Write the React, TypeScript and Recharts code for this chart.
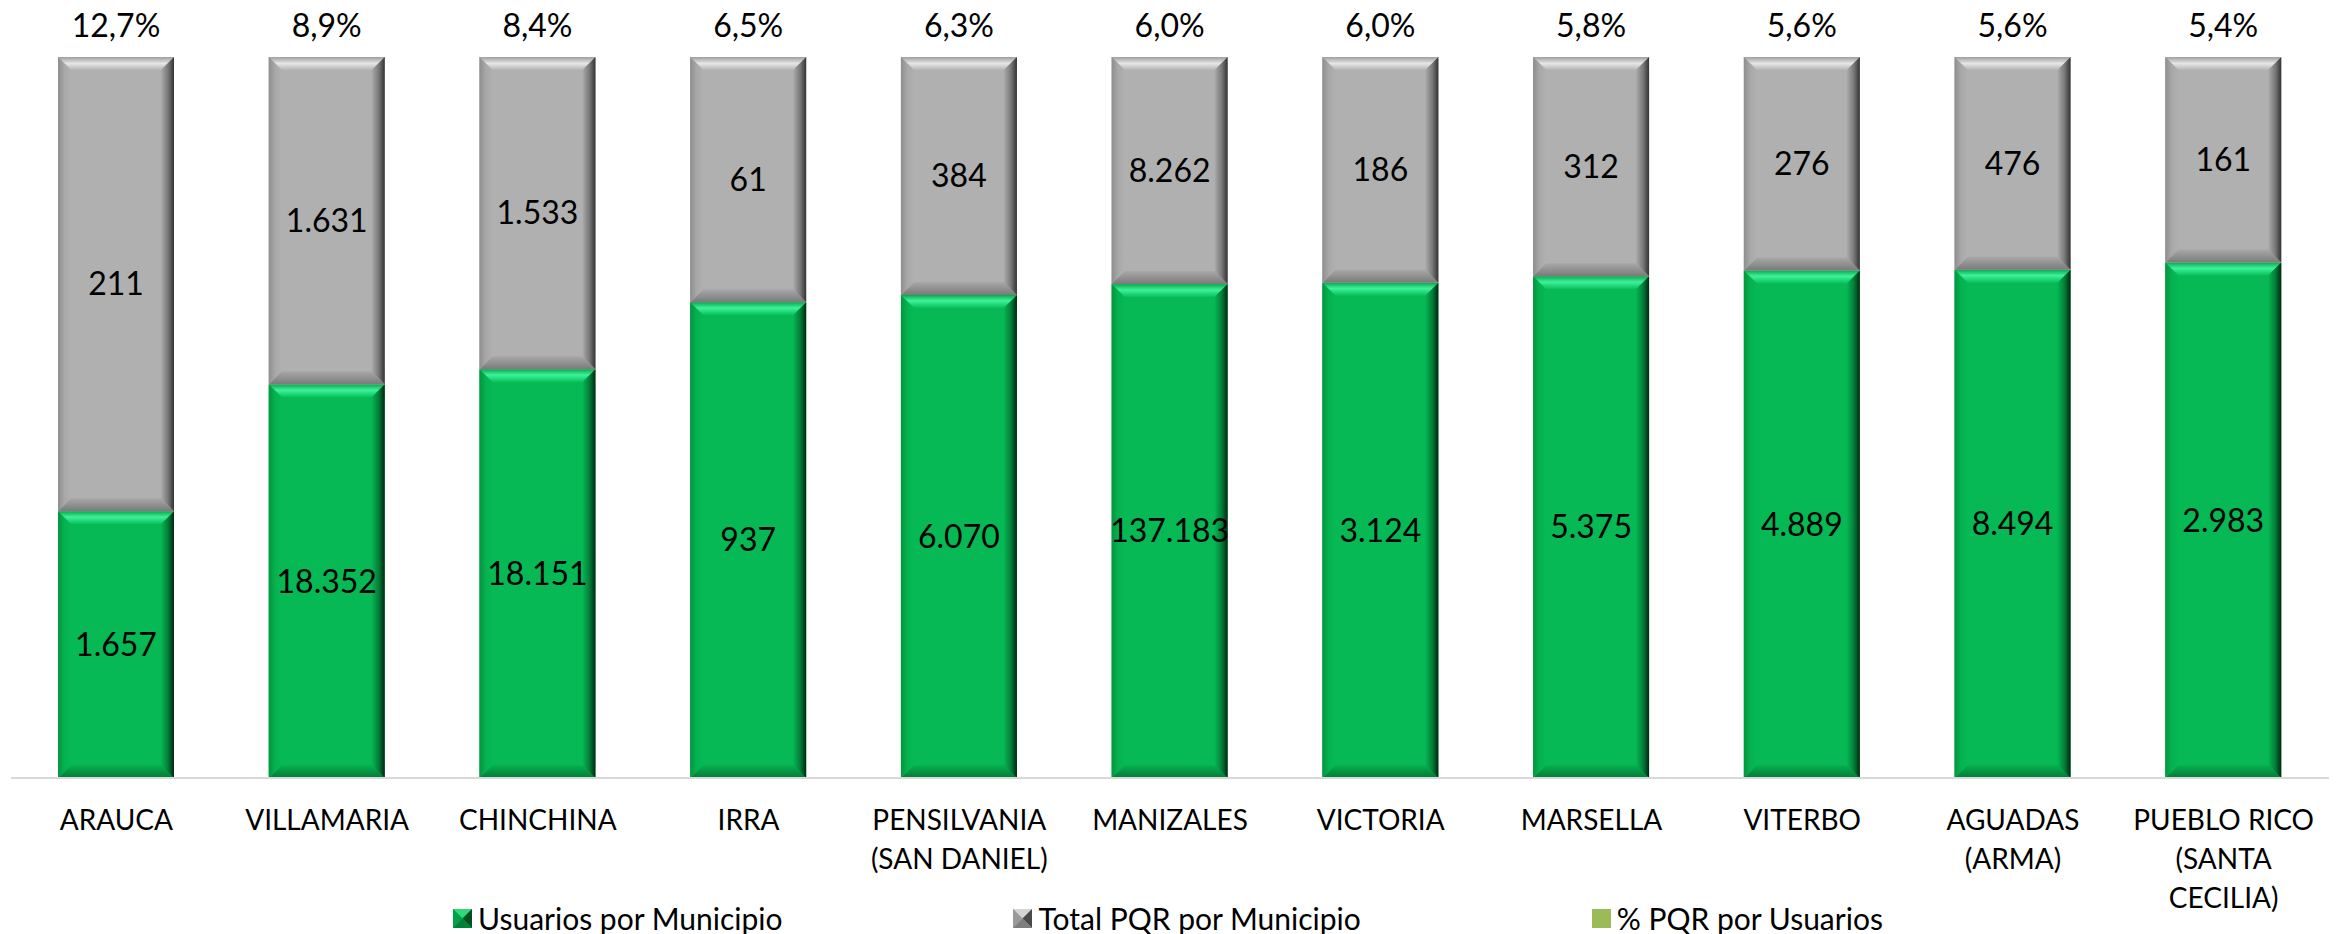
import React from 'react';
import { BarChart, Bar, XAxis, YAxis, LabelList, Legend } from 'recharts';

// Municipalities, in the order they are ranked
const categories = [
  'ARAUCA',
  'VILLAMARIA',
  'CHINCHINA',
  'IRRA',
  'PENSILVANIA (SAN DANIEL)',
  'MANIZALES',
  'VICTORIA',
  'MARSELLA',
  'VITERBO',
  'AGUADAS (ARMA)',
  'PUEBLO RICO (SANTA CECILIA)',
];

// Axis tick labels, broken into lines
const tickLines = [
  ['ARAUCA'],
  ['VILLAMARIA'],
  ['CHINCHINA'],
  ['IRRA'],
  ['PENSILVANIA', '(SAN DANIEL)'],
  ['MANIZALES'],
  ['VICTORIA'],
  ['MARSELLA'],
  ['VITERBO'],
  ['AGUADAS', '(ARMA)'],
  ['PUEBLO RICO', '(SANTA', 'CECILIA)'],
];

// Users per municipality
const usuarios = [1657, 18352, 18151, 937, 6070, 137183, 3124, 5375, 4889, 8494, 2983];
// Total PQR per municipality
const totalPqr = [211, 1631, 1533, 61, 384, 8262, 186, 312, 276, 476, 161];
// PQR per user (%)
const pctPqr = [12.7, 8.9, 8.4, 6.5, 6.3, 6.0, 6.0, 5.8, 5.6, 5.6, 5.4];

// Share of each stacked column (percent of the column height)
const usuariosShare = [37.0, 54.6, 56.7, 66.0, 67.0, 68.5, 68.7, 69.6, 70.4, 70.5, 71.5];
const pqrShare = [63.0, 45.4, 43.3, 34.0, 33.0, 31.5, 31.3, 30.4, 29.6, 29.5, 28.5];

const seriesNames = ['Usuarios por Municipio', 'Total PQR por Municipio', '% PQR por Usuarios'];

const FONT = 'Lato, "Noto Sans", sans-serif';

const fmtInt = (n: number) => String(n).replace(/\B(?=(\d{3})+(?!\d))/g, '.');
const fmtPct = (n: number) => n.toFixed(1).replace('.', ',') + '%';

const data = categories.map((name, i) => ({
  name,
  usuariosShare: usuariosShare[i],
  pqrShare: pqrShare[i],
  usuariosLabel: fmtInt(usuarios[i]),
  pqrLabel: fmtInt(totalPqr[i]),
  pctLabel: fmtPct(pctPqr[i]),
}));

const palettes = {
  green: { base: '#06B954' },
  gray: { base: '#B0B0B0' },
};

// Bevelled column segment: flat face plus four chamfered edges
const makeBevel = (key: 'green' | 'gray') => (props: any) => {
  const { x, y, width: w, height: h } = props;
  if (!w || !h || h <= 0) return <g />;
  const b = Math.min(13, w / 2, h / 2);
  const base = palettes[key].base;
  return (
    <g>
      <rect x={x} y={y} width={w} height={h} fill={base} />
      <polygon
        points={`${x},${y} ${x + w},${y} ${x + w - b},${y + b} ${x + b},${y + b}`}
        fill={`url(#${key}-top)`}
      />
      <polygon
        points={`${x},${y + h} ${x + w},${y + h} ${x + w - b},${y + h - b} ${x + b},${y + h - b}`}
        fill={`url(#${key}-bottom)`}
      />
      <polygon
        points={`${x},${y} ${x + b},${y + b} ${x + b},${y + h - b} ${x},${y + h}`}
        fill={`url(#${key}-left)`}
      />
      <polygon
        points={`${x + w},${y} ${x + w},${y + h} ${x + w - b},${y + h - b} ${x + w - b},${y + b}`}
        fill={`url(#${key}-right)`}
      />
    </g>
  );
};

const greenShape = makeBevel('green');
const grayShape = makeBevel('gray');

const CategoryTick = (props: any) => {
  const { x, y, index } = props;
  const lines = tickLines[index] || [String(props.payload?.value ?? '')];
  return (
    <text
      x={x}
      y={y + 44}
      textAnchor="middle"
      fontSize={28}
      fontFamily={FONT}
      fill="#000"
    >
      {lines.map((line: string, i: number) => (
        <tspan key={i} x={x} dy={i === 0 ? 0 : 39}>
          {line}
        </tspan>
      ))}
    </text>
  );
};

const LegendSwatch = ({ kind }: { kind: number }) => {
  if (kind === 2) {
    return (
      <svg width={19} height={19} style={{ display: 'block' }}>
        <rect x={0} y={0} width={19} height={19} fill="#9BBB59" />
      </svg>
    );
  }
  const c =
    kind === 0
      ? { face: '#06B954', top: '#2FD97A', left: '#04A048', right: '#02501F', bottom: '#03803A' }
      : { face: '#B0B0B0', top: '#D4D4D4', left: '#9A9A9A', right: '#4A4A4A', bottom: '#7E7E7E' };
  return (
    <svg width={19} height={19} style={{ display: 'block' }}>
      <rect x={0} y={0} width={19} height={19} fill={c.face} />
      <polygon points="0,0 19,0 9.5,9.5" fill={c.top} />
      <polygon points="0,0 9.5,9.5 0,19" fill={c.left} />
      <polygon points="19,0 19,19 9.5,9.5" fill={c.right} />
      <polygon points="0,19 19,19 9.5,9.5" fill={c.bottom} />
    </svg>
  );
};

const renderLegend = () => (
  <div
    style={{
      display: 'flex',
      justifyContent: 'center',
      alignItems: 'center',
      gap: 231,
      width: 2336,
      fontFamily: FONT,
      fontSize: 30,
      color: '#000',
    }}
  >
    {seriesNames.map((name, i) => (
      <div key={name} style={{ display: 'flex', alignItems: 'center', gap: 6 }}>
        <LegendSwatch kind={i} />
        <span style={{ whiteSpace: 'nowrap', lineHeight: '34px' }}>{name}</span>
      </div>
    ))}
  </div>
);

export default function App() {
  return (
    <div
      style={{
        position: 'absolute',
        left: 0,
        top: 0,
        width: 2336,
        height: 934,
        background: '#ffffff',
        fontFamily: FONT,
      }}
    >
      <BarChart
        width={2336}
        height={934}
        data={data}
        margin={{ top: 57, right: 7, left: 11, bottom: 56 }}
        barSize={116}
      >
        <defs>
          <linearGradient id="green-top" x1="0" y1="0" x2="0" y2="1">
            <stop offset="0" stopColor="#08A84C" />
            <stop offset="0.45" stopColor="#3DF29A" />
            <stop offset="1" stopColor="#07C05A" />
          </linearGradient>
          <linearGradient id="green-bottom" x1="0" y1="0" x2="0" y2="1">
            <stop offset="0" stopColor="#06B150" />
            <stop offset="1" stopColor="#037A36" />
          </linearGradient>
          <linearGradient id="green-left" x1="0" y1="0" x2="1" y2="0">
            <stop offset="0" stopColor="#04953F" />
            <stop offset="0.5" stopColor="#06B150" />
            <stop offset="1" stopColor="#06B954" />
          </linearGradient>
          <linearGradient id="green-right" x1="0" y1="0" x2="1" y2="0">
            <stop offset="0" stopColor="#06B652" />
            <stop offset="0.55" stopColor="#047C38" />
            <stop offset="1" stopColor="#00280F" />
          </linearGradient>
          <linearGradient id="gray-top" x1="0" y1="0" x2="0" y2="1">
            <stop offset="0" stopColor="#9E9E9E" />
            <stop offset="0.5" stopColor="#E6E6E6" />
            <stop offset="1" stopColor="#B4B4B4" />
          </linearGradient>
          <linearGradient id="gray-bottom" x1="0" y1="0" x2="0" y2="1">
            <stop offset="0" stopColor="#A8A8A8" />
            <stop offset="1" stopColor="#7A7A7A" />
          </linearGradient>
          <linearGradient id="gray-left" x1="0" y1="0" x2="1" y2="0">
            <stop offset="0" stopColor="#8E8E8E" />
            <stop offset="0.5" stopColor="#A8A8A8" />
            <stop offset="1" stopColor="#B0B0B0" />
          </linearGradient>
          <linearGradient id="gray-right" x1="0" y1="0" x2="1" y2="0">
            <stop offset="0" stopColor="#ABABAB" />
            <stop offset="0.55" stopColor="#777777" />
            <stop offset="1" stopColor="#333333" />
          </linearGradient>
        </defs>
        <YAxis hide domain={[0, 100]} />
        <XAxis
          dataKey="name"
          height={100}
          interval={0}
          tickLine={false}
          axisLine={{ stroke: '#d9d9d9', strokeWidth: 2 }}
          tick={(p: any) => <CategoryTick {...p} />}
        />
        <Bar dataKey="usuariosShare" stackId="col" shape={greenShape} isAnimationActive={false}>
          <LabelList
            dataKey="usuariosLabel"
            position="center"
            fontSize={32}
            fontFamily={FONT}
            fill="#000"
          />
        </Bar>
        <Bar dataKey="pqrShare" stackId="col" shape={grayShape} isAnimationActive={false}>
          <LabelList
            dataKey="pqrLabel"
            position="center"
            fontSize={32}
            fontFamily={FONT}
            fill="#000"
          />
          <LabelList
            dataKey="pctLabel"
            position="top"
            offset={20}
            fontSize={32}
            fontFamily={FONT}
            fill="#000"
          />
        </Bar>
        <Legend
          verticalAlign="middle"
          align="center"
          layout="horizontal"
          wrapperStyle={{ top: 901, left: 0, width: 2336 }}
          content={renderLegend}
        />
      </BarChart>
    </div>
  );
}
